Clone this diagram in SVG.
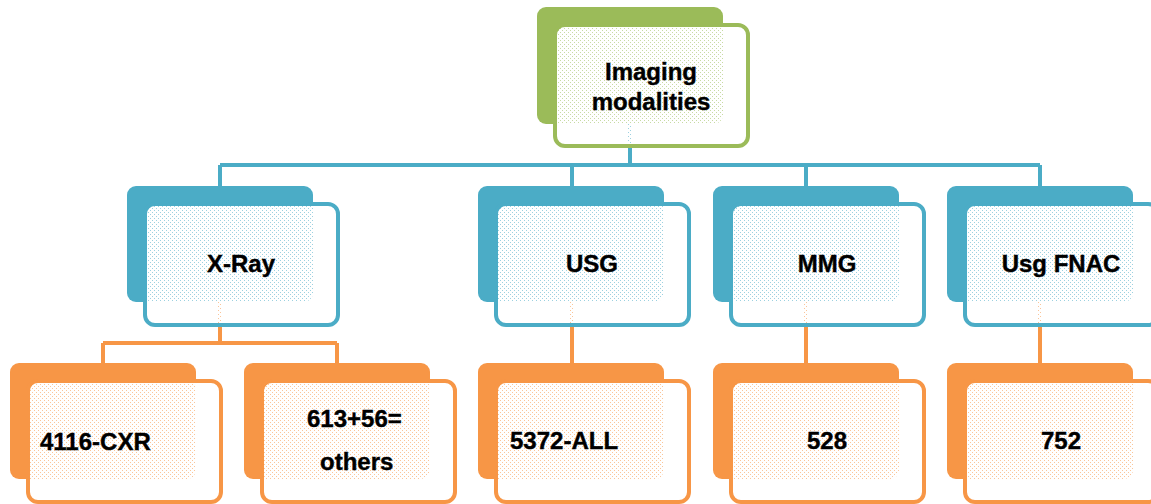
<svg xmlns="http://www.w3.org/2000/svg" width="1151" height="504" viewBox="0 0 1151 504">
<style>
.t{font-family:"Liberation Sans",Arial,sans-serif;font-weight:bold;font-size:24px;fill:#000;stroke:#000;stroke-width:0.4}
.m{text-anchor:middle}
.bg{fill:#9BBB59}.bb{fill:#4BACC6}.bo{fill:#F79646}
.f{fill:url(#dots);stroke-width:4}
.fg{stroke:#9BBB59}.fb{stroke:#4BACC6}.fo{stroke:#F79646}
.cb{stroke:#4BACC6;stroke-width:4;fill:none}
.co{stroke:#F79646;stroke-width:4;fill:none}
</style>
<defs>
<pattern id="dots" width="4" height="4" patternUnits="userSpaceOnUse">
<path d="M0 0h4v4h-4z M0 0h1v1h-1z M2 2h1v1h-1z" fill="#fff" fill-rule="evenodd"/>
<path d="M0 0h1v1h-1z M2 2h1v1h-1z" fill="#fff" fill-opacity="0.45"/>
</pattern>
</defs>
<rect width="1151" height="504" fill="#fff"/>
<g id="connectors">
<path class="cb" d="M630 124V165M220 165H1040M220 165V186M572 165V186M806 165V186M1040 165V186"/>
<path class="co" d="M220 302V343M103 343H337M103 343V363M337 343V363M572 302V363M806 302V363M1040 302V363"/>
</g>
<g id="n-top">
<rect class="bg" x="537" y="7" width="186" height="117" rx="9"/>
<rect class="f fg" x="555" y="25" width="193" height="121" rx="10"/>
<text class="t m" x="651" y="80">Imaging</text>
<text class="t m" x="651" y="110">modalities</text>
</g>
<g id="n-xray">
<rect class="bb" x="127" y="186" width="186" height="116" rx="9"/>
<rect class="f fb" x="145" y="204" width="193" height="121" rx="10"/>
<text class="t m" x="241" y="272">X-Ray</text>
</g>
<g id="n-usg">
<rect class="bb" x="478" y="186" width="186" height="116" rx="9"/>
<rect class="f fb" x="496" y="204" width="193" height="121" rx="10"/>
<text class="t m" x="592" y="272">USG</text>
</g>
<g id="n-mmg">
<rect class="bb" x="713" y="186" width="186" height="116" rx="9"/>
<rect class="f fb" x="731" y="204" width="193" height="121" rx="10"/>
<text class="t m" x="827" y="272">MMG</text>
</g>
<g id="n-fnac">
<rect class="bb" x="947" y="186" width="186" height="116" rx="9"/>
<rect class="f fb" x="965" y="204" width="193" height="121" rx="10"/>
<text class="t m" x="1061" y="272">Usg FNAC</text>
</g>
<g id="n-cxr">
<rect class="bo" x="10" y="363" width="186" height="116" rx="9"/>
<rect class="f fo" x="28" y="381" width="193" height="121" rx="10"/>
<text class="t" x="40" y="450">4116-CXR</text>
</g>
<g id="n-others">
<rect class="bo" x="244" y="363" width="186" height="116" rx="9"/>
<rect class="f fo" x="262" y="381" width="193" height="121" rx="10"/>
<text class="t" x="307" y="427">613+56=</text>
<text class="t" x="320" y="470">others</text>
</g>
<g id="n-all">
<rect class="bo" x="478" y="363" width="186" height="116" rx="9"/>
<rect class="f fo" x="496" y="381" width="193" height="121" rx="10"/>
<text class="t" x="510" y="449">5372-ALL</text>
</g>
<g id="n-528">
<rect class="bo" x="713" y="363" width="186" height="116" rx="9"/>
<rect class="f fo" x="731" y="381" width="193" height="121" rx="10"/>
<text class="t m" x="827" y="449">528</text>
</g>
<g id="n-752">
<rect class="bo" x="947" y="363" width="186" height="116" rx="9"/>
<rect class="f fo" x="965" y="381" width="193" height="121" rx="10"/>
<text class="t m" x="1061" y="449">752</text>
</g>
</svg>
